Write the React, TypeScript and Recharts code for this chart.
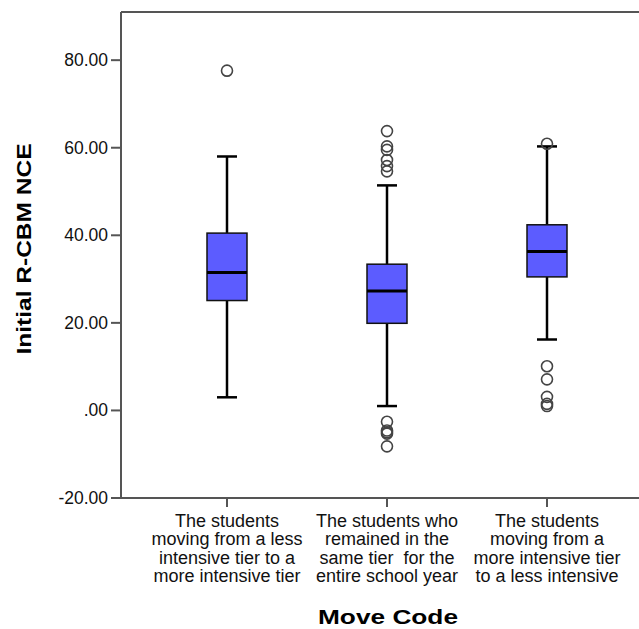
import React from 'react';
import {
  ComposedChart, Bar, Scatter, XAxis, YAxis, ReferenceLine,
} from 'recharts';

// Move Code groups
const moveCodes = ['lessToMore', 'same', 'moreToLess'];
const codeLabels = [
  ['The students', 'moving from a less', 'intensive tier to a', 'more intensive tier'],
  ['The students who', 'remained in the', 'same tier  for the', 'entire school year'],
  ['The students', 'moving from a', 'more intensive tier', 'to a less intensive'],
];

// Initial R-CBM NCE box statistics
const whiskerLow = [3.0, 1.0, 16.2];
const q1 = [25.1, 19.9, 30.5];
const median = [31.5, 27.3, 36.3];
const q3 = [40.5, 33.4, 42.4];
const whiskerHigh = [58.0, 51.4, 60.3];
const outliers = [
  [77.6],
  [63.8, 60.3, 59.5, 57.2, 55.8, 54.6, -2.6, -4.6, -5.0, -5.3, -8.2],
  [60.9, 10.1, 7.1, 3.1, 1.5, 1.0],
];

const yTicks = [-20, 0, 20, 40, 60, 80];
const yMax = 91;

const boxData = moveCodes.map((code, i) => ({
  code,
  low: whiskerLow[i],
  q1: q1[i],
  median: median[i],
  q3: q3[i],
  high: whiskerHigh[i],
}));

const outlierData = moveCodes.flatMap((code, i) => outliers[i].map((v) => ({ code, value: v })));

const FONT = '"Liberation Sans", Arial, sans-serif';
const AXIS = '#555555';

const BoxShape = (props: any) => {
  const { x, y, width, height, payload } = props;
  const top = Math.min(y, y + height);
  const h = Math.abs(height);
  const span = payload.high - payload.low;
  const py = (v: number) => top + ((payload.high - v) / span) * h;
  const cx = x + width / 2;
  const cap = width / 4;
  return (
    <g>
      <line x1={cx} x2={cx} y1={py(payload.high)} y2={py(payload.q3)} stroke="#000" strokeWidth={2.5} />
      <line x1={cx} x2={cx} y1={py(payload.q1)} y2={py(payload.low)} stroke="#000" strokeWidth={2.5} />
      <line x1={cx - cap} x2={cx + cap} y1={py(payload.high)} y2={py(payload.high)} stroke="#000" strokeWidth={2.5} />
      <line x1={cx - cap} x2={cx + cap} y1={py(payload.low)} y2={py(payload.low)} stroke="#000" strokeWidth={2.5} />
      <rect x={x} y={py(payload.q3)} width={width} height={py(payload.q1) - py(payload.q3)}
        fill="#5c5cff" stroke="#111" strokeWidth={1.5} />
      <line x1={x} x2={x + width} y1={py(payload.median)} y2={py(payload.median)} stroke="#000" strokeWidth={3} />
    </g>
  );
};

const OutlierShape = (props: any) => (
  <circle cx={props.cx} cy={props.cy} r={5.5} fill="none" stroke="#444" strokeWidth={1.6} />
);

const CodeTick = (props: any) => {
  const { x, y, index } = props;
  const lines = codeLabels[index] || [];
  return (
    <text x={x} y={y} textAnchor="middle" fontFamily={FONT} fontSize={18} fill="#111">
      {lines.map((l, i) => (
        <tspan key={i} x={x} dy={i === 0 ? 18 : 18.4} xmlSpace="preserve">{l}</tspan>
      ))}
    </text>
  );
};

const NumTick = (props: any) => {
  const { x, y, payload } = props;
  const v = payload.value;
  const txt = v === 0 ? '.00' : v.toFixed(2);
  return (
    <text x={x} y={y} dy={6} textAnchor="end" fontFamily={FONT} fontSize={17.5} fill="#111">{txt}</text>
  );
};

const YTitle = (props: any) => {
  const { viewBox } = props;
  const cx = 24;
  const cy = viewBox.y + viewBox.height / 2 - 6;
  return (
    <text x={cx} y={cy} transform={`rotate(-90 ${cx} ${cy})`} textAnchor="middle" dominantBaseline="central"
      fontFamily={FONT} fontWeight="bold" fontSize={19.5} textLength={211} lengthAdjust="spacingAndGlyphs" fill="#000">
      Initial R-CBM NCE
    </text>
  );
};

const XTitle = (props: any) => {
  const { viewBox } = props;
  const cx = viewBox.x + viewBox.width / 2;
  return (
    <text x={cx} y={624} textAnchor="middle" fontFamily={FONT} fontWeight="bold" fontSize={21}
      textLength={140} lengthAdjust="spacingAndGlyphs" fill="#000">
      Move Code
    </text>
  );
};

export default function App() {
  return (
    <div style={{ position: 'absolute', left: 0, top: 0, width: 639, height: 629, overflow: 'hidden', background: '#fff' }}>
      <ComposedChart width={655} height={629} data={boxData} margin={{ top: 12, right: 0, bottom: 0, left: 0 }}>
        <XAxis dataKey="code" allowDuplicatedCategory={false} height={131} padding={{ left: 26, right: 28 }}
          tick={<CodeTick />} tickSize={9} interval={0}
          axisLine={{ stroke: AXIS, strokeWidth: 2 }} tickLine={{ stroke: AXIS, strokeWidth: 2 }}
          label={{ content: <XTitle /> }} />
        <YAxis type="number" domain={[-20, yMax]} ticks={yTicks} width={121} allowDataOverflow
          tick={<NumTick />} tickSize={10} tickMargin={3}
          axisLine={{ stroke: AXIS, strokeWidth: 2 }} tickLine={{ stroke: AXIS, strokeWidth: 2 }}
          label={{ content: <YTitle /> }} />
        <ReferenceLine y={yMax} stroke={AXIS} strokeWidth={2} />
        <Bar dataKey={(d: any) => [d.low, d.high]} barSize={40} shape={<BoxShape />} isAnimationActive={false} />
        <Scatter data={outlierData} dataKey="value" shape={<OutlierShape />} isAnimationActive={false} />
      </ComposedChart>
    </div>
  );
}
